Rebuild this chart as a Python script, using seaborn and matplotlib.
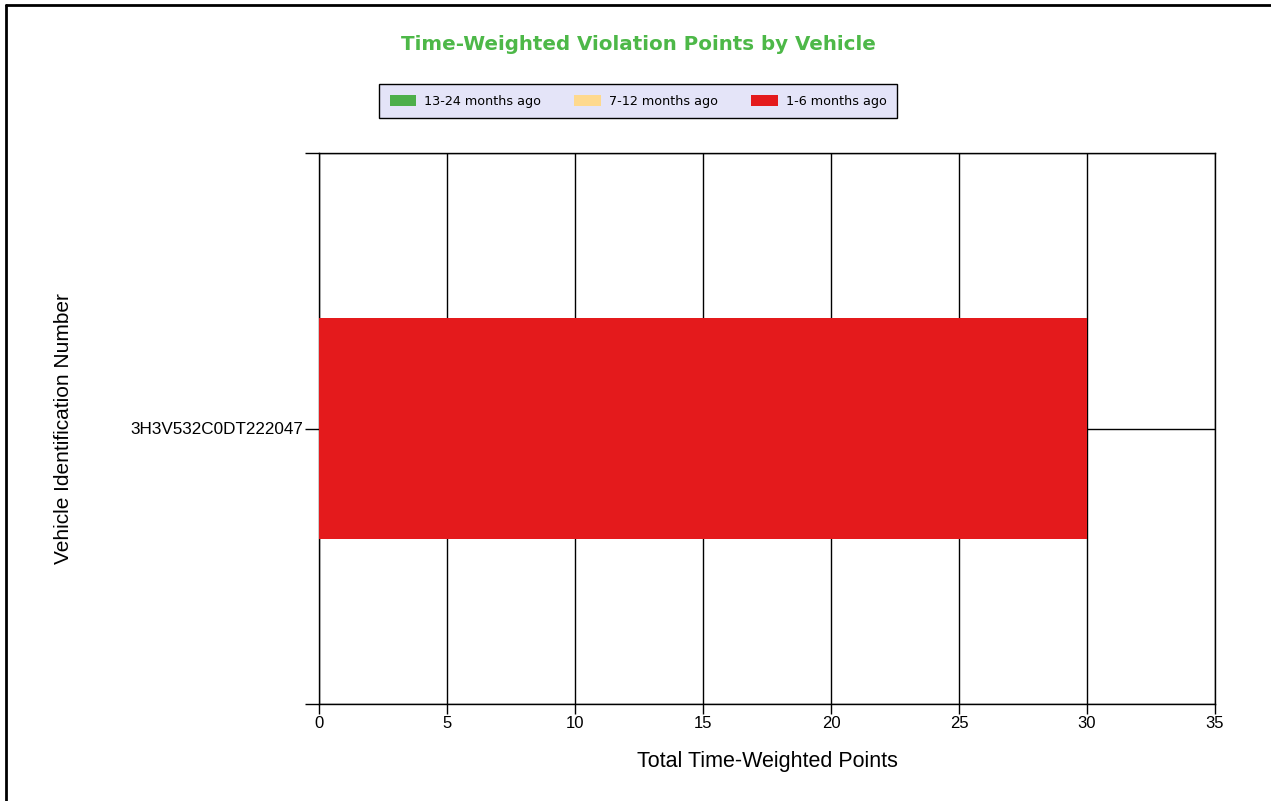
import matplotlib
matplotlib.use("Agg")
import matplotlib.pyplot as plt
import seaborn as sns
import pandas as pd
from matplotlib.patches import Patch
from matplotlib.lines import Line2D

vehicles = ["3H3V532C0DT222047"]
series_names = ["13-24 months ago", "7-12 months ago", "1-6 months ago"]
pts_13_24 = [0]
pts_7_12 = [0]
pts_1_6 = [30]
colors = ["#4DAF4A", "#FED98E", "#E41A1C"]
x_ticks = [0, 5, 10, 15, 20, 25, 30, 35]

sns.set_theme(style="white")
plt.rcParams['font.family'] = ['Liberation Sans', 'DejaVu Sans']
plt.rcParams['text.color'] = 'black'
plt.rcParams['axes.labelcolor'] = 'black'
plt.rcParams['xtick.color'] = 'black'
plt.rcParams['ytick.color'] = 'black'

fig = plt.figure(figsize=(12.71, 8.01), dpi=100)
ax = fig.add_axes([319/1271, 1-704/801, (1215-319)/1271, (704-153)/801])

df = pd.DataFrame({"vin": vehicles, "a": pts_13_24, "b": pts_7_12, "c": pts_1_6})
left = [0] * len(vehicles)
for col, name, color in zip(["a", "b", "c"], series_names, colors):
    sns.barplot(data=df, y="vin", x=col, orient="h", color=color, width=0.4,
                ax=ax, left=left, saturation=1, zorder=3, edgecolor="none", linewidth=0)
    left = [l + v for l, v in zip(left, df[col])]

ax.set_xlim(0, 35)
ax.set_ylim(0.5, -0.5)
ax.set_xticks(x_ticks)
ax.set_xticklabels([str(t) for t in x_ticks], fontsize=12)
ax.set_yticks([-0.5, 0, 0.5])
ax.set_yticklabels(["", vehicles[0], ""], fontsize=12.3)
ax.tick_params(axis="y", length=10, width=1, color="black", pad=1, left=True)
ax.tick_params(axis="x", length=7, width=1, color="black", pad=2, bottom=True)
ax.grid(True, color="black", linewidth=1, zorder=0)
ax.set_axisbelow(True)
for s in ["top", "right", "left", "bottom"]:
    ax.spines[s].set_visible(True)
    ax.spines[s].set_color("black")
    ax.spines[s].set_linewidth(1)
ax.set_xlabel("Total Time-Weighted Points", fontsize=15.5, labelpad=14)
ax.set_ylabel("Vehicle Identification Number", fontsize=15)
ax.yaxis.set_label_coords(-0.275, 0.5)

fig.text(638/1271, 1-44/801, "Time-Weighted Violation Points by Vehicle",
         ha="center", va="center", fontsize=14.3, fontweight="bold", color="#4DB848",
         family=["DejaVu Sans"])

handles = [Patch(facecolor=c, edgecolor="none") for c in colors]
leg = fig.legend(handles, series_names, loc="center", bbox_to_anchor=(638/1271, 1-101/801),
                 ncol=3, frameon=True, fancybox=False,
                 prop={"family": "DejaVu Sans", "size": 9.2},
                 handlelength=2.1, handleheight=0.95, handletextpad=0.6,
                 columnspacing=2.6, borderpad=0.85, borderaxespad=0)
leg.get_frame().set_facecolor("#E4E4F8")
leg.get_frame().set_edgecolor("black")
leg.get_frame().set_linewidth(1)
leg.get_frame().set_alpha(1)

fig.add_artist(Line2D([6/1271, 6/1271], [0, 1-5/801], transform=fig.transFigure, color="black", lw=2))
fig.add_artist(Line2D([6/1271, 1], [1-5/801, 1-5/801], transform=fig.transFigure, color="black", lw=2))

fig.savefig("out.png", dpi=100)
